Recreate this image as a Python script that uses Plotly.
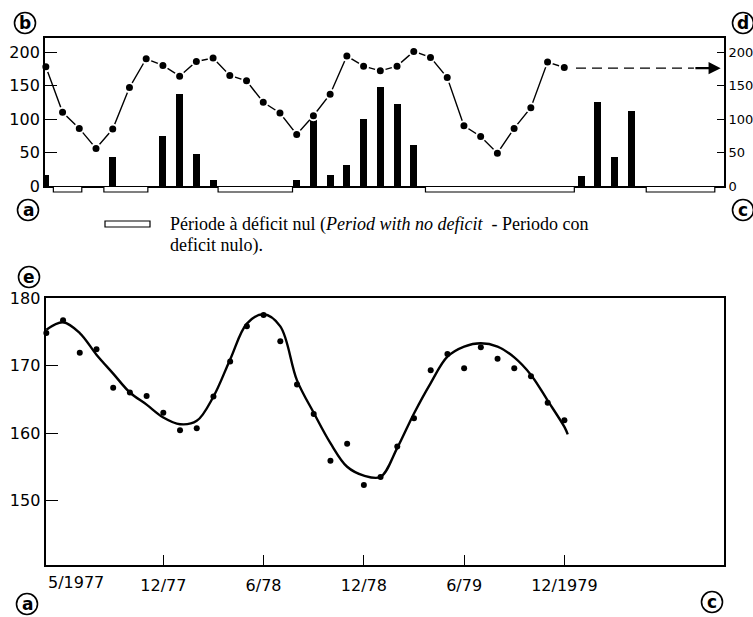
import plotly.graph_objects as go

W, H = 753, 617

# ---------------- data ----------------
# months counted from 5/1977 (0) to 12/1979 (31)
line_months = list(range(32))
rain_values = [178, 110, 86, 56, 85, 147, 190, 180, 164, 186, 191, 165, 157, 125, 109, 77,
               105, 137, 194, 179, 172, 179, 201, 192, 162, 90, 74, 49, 86, 117, 185, 177]

bar_months = [0, 4, 7, 8, 9, 10, 15, 16, 17, 18, 19, 20, 21, 22, 32, 33, 34, 35]
deficit_values = [16, 44, 75, 137, 48, 9, 9, 107, 16, 31, 100, 148, 123, 61, 15, 126, 44, 112]

# periods with no deficit (start month, end month)
no_deficit_start = [0.45, 3.47, 10.3, 22.7, 35.9]
no_deficit_end = [2.15, 6.1, 14.75, 31.6, 40.0]

# projected level (dashed arrow)
arrow_level = 176
arrow_start = 31.7
arrow_end = 40.35

top_yticks = [0, 50, 100, 150, 200]

dot_months = list(range(32))
dot_values = [174.8, 176.7, 171.9, 172.4, 166.7, 166.0, 165.5, 163.0, 160.4, 160.7, 165.4,
              170.6, 175.8, 177.5, 173.6, 167.2, 162.8, 155.9, 158.4, 152.3, 153.5, 158.0,
              162.2, 169.3, 171.7, 169.6, 172.7, 171.0, 169.6, 168.4, 164.5, 161.9]

curve_months = list(range(32)) + [31.2]
curve_values = [175.3, 176.4, 174.8, 171.6, 168.8, 166.0, 164.2, 162.3, 161.3, 161.8, 165.4,
                170.9, 176.2, 177.6, 175.8, 167.8, 163.0, 158.5, 155.0, 153.7, 153.5, 157.8,
                162.9, 167.4, 171.3, 172.8, 173.3, 172.8, 171.2, 168.6, 164.8, 160.9, 159.8]

bottom_tickvals = [7, 13, 19, 25, 31]
bottom_ticktext = ["12/77", "6/78", "12/78", "6/79", "12/1979"]
first_label = "5/1977"
bottom_yticks = [150, 160, 170, 180]

legend_line1 = "Période à déficit nul (<i>Period with no deficit</i> \u00a0- Periodo con"
legend_line2 = "deficit nulo)."

# ---------------- helpers (pixel -> paper) ----------------
def px(x):
    return x / W

def py(y):
    return 1 - y / H

xr = [-0.05, 40.55]
tick_font = dict(family="DejaVu Sans", size=16, color="black")

fig = go.Figure()

# top chart
fig.add_trace(go.Bar(x=bar_months, y=deficit_values, width=0.42, marker_color="black",
                     marker_line_width=0, xaxis="x", yaxis="y"))
fig.add_trace(go.Scatter(x=line_months, y=rain_values, mode="lines+markers",
                         line=dict(color="black", width=1.4),
                         marker=dict(color="black", size=9, line=dict(color="white", width=2)),
                         xaxis="x", yaxis="y", cliponaxis=False))
fig.add_trace(go.Scatter(x=[0], y=[0], mode="markers", opacity=0, hoverinfo="skip",
                         xaxis="x", yaxis="y2"))

# bottom chart
fig.add_trace(go.Scatter(x=curve_months, y=curve_values, mode="lines",
                         line=dict(color="black", width=2.4, shape="spline", smoothing=1.0),
                         xaxis="x2", yaxis="y3"))
fig.add_trace(go.Scatter(x=dot_months, y=dot_values, mode="markers",
                         marker=dict(color="black", size=6),
                         xaxis="x2", yaxis="y3", cliponaxis=False))

axis_line = dict(showline=True, linecolor="black", linewidth=1.8, mirror=True,
                 showgrid=False, zeroline=False)

fig.update_layout(
    width=W, height=H, margin=dict(l=0, r=0, t=0, b=0),
    paper_bgcolor="white", plot_bgcolor="white", showlegend=False, bargap=0,
    xaxis=dict(domain=[px(45), px(724)], range=xr, anchor="y", showticklabels=False,
               ticks="", **axis_line),
    yaxis=dict(domain=[py(186), py(38)], range=[0, 221], anchor="x",
               tickvals=top_yticks, ticks="inside", ticklen=12, tickwidth=1.4,
               tickcolor="black", tickfont=tick_font, automargin=False,
               showline=True, linecolor="black", linewidth=1.8, mirror=False,
               showgrid=False, zeroline=False),
    yaxis2=dict(overlaying="y", side="right", anchor="x", range=[0, 221],
                tickvals=top_yticks, ticks="inside", ticklen=7, tickwidth=1.4,
                tickcolor="black", tickfont=dict(family="DejaVu Sans", size=13, color="black"),
                automargin=False, ticklabelstandoff=0,
                showline=True, linecolor="black", linewidth=1.8,
                showgrid=False, zeroline=False),
    xaxis2=dict(domain=[px(45.5), px(724)], range=xr, anchor="y3",
                tickvals=bottom_tickvals, ticktext=bottom_ticktext, ticks="inside",
                ticklen=10, tickwidth=1.2, tickcolor="black", tickfont=tick_font,
                ticklabelstandoff=5, automargin=False, **axis_line),
    yaxis3=dict(domain=[py(565), py(298)], range=[140.45, 180], anchor="x2",
                tickvals=bottom_yticks, ticks="inside", ticklen=13, tickwidth=1.2,
                tickcolor="black", tickfont=tick_font, automargin=False, **axis_line),
)

shapes = []
# no-deficit period rectangles below the top chart baseline
for s, e in zip(no_deficit_start, no_deficit_end):
    shapes.append(dict(type="rect", xref="x", yref="paper", x0=s, x1=e,
                       y0=py(192), y1=py(186.5), fillcolor="white",
                       line=dict(color="black", width=1.2)))
# dashed projection line
shapes.append(dict(type="line", xref="x", yref="y", x0=arrow_start, x1=arrow_end - 1.6,
                   y0=arrow_level, y1=arrow_level,
                   line=dict(color="black", width=1.2, dash="10px,6px")))
# legend symbol
shapes.append(dict(type="rect", xref="paper", yref="paper", x0=px(105), x1=px(150),
                   y0=py(227), y1=py(221), fillcolor="white",
                   line=dict(color="black", width=1.2)))

legend_font = dict(family="Liberation Serif", size=18, color="black")
annotations = [
    dict(x=arrow_end, y=arrow_level, ax=arrow_end - 1.6, ay=arrow_level, xref="x", yref="y",
         axref="x", ayref="y", showarrow=True, arrowhead=2, arrowsize=1.1, arrowwidth=2.2,
         arrowcolor="black", text=""),
    dict(x=0, y=140.45, xref="x2", yref="y3", text=first_label, showarrow=False,
         xanchor="left", yanchor="top", yshift=-6, xshift=0, font=tick_font),
    dict(x=px(168), y=py(224), xref="paper", yref="paper", text=legend_line1,
         showarrow=False, xanchor="left", yanchor="middle", font=legend_font),
    dict(x=px(168), y=py(245), xref="paper", yref="paper", text=legend_line2,
         showarrow=False, xanchor="left", yanchor="middle", font=legend_font),
]

# circled letters
circled = [("b", 25, 23), ("d", 743, 23), ("a", 28, 210), ("c", 743, 210),
           ("e", 29, 277), ("a", 27, 604), ("c", 712, 602)]
r = 10.5
for letter, cx, cy in circled:
    shapes.append(dict(type="circle", xref="paper", yref="paper",
                       x0=px(cx - r), x1=px(cx + r), y0=py(cy + r), y1=py(cy - r),
                       line=dict(color="black", width=1.6)))
    annotations.append(dict(x=px(cx), y=py(cy), xref="paper", yref="paper", text=f"<b>{letter}</b>",
                            showarrow=False, xanchor="center", yanchor="middle",
                            font=dict(family="DejaVu Sans", size=17, color="black")))

fig.update_layout(shapes=shapes, annotations=annotations)

fig.write_html("out.html", config={"displayModeBar": False},
               post_script="document.body.style.margin='0';document.body.style.overflow='hidden';")
